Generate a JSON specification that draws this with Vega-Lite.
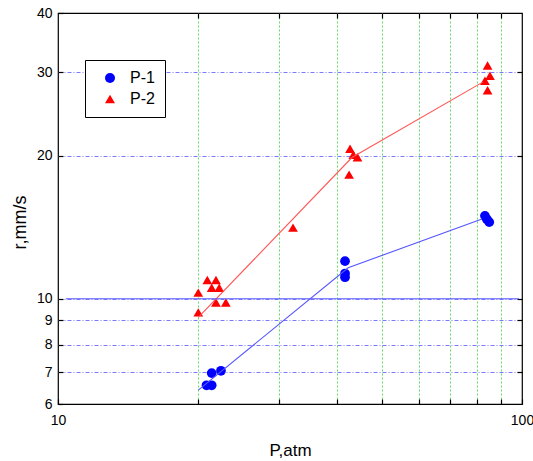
{
  "$schema": "https://vega.github.io/schema/vega-lite/v6.json",
  "width": 464,
  "height": 391,
  "autosize": {"type": "none"},
  "padding": {"left": 58, "top": 13, "right": 11, "bottom": 57},
  "background": "white",
  "config": {
    "font": "Liberation Sans",
    "view": {"stroke": "black", "strokeWidth": 1.2},
    "axis": {"domain": false, "tickColor": "black", "tickWidth": 1.2, "labelColor": "black", "titleColor": "black", "titleFontWeight": "normal"}
  },
  "datasets": {
    "pts": [
      {"series": "P-1", "P": 20.9, "r": 6.57},
      {"series": "P-1", "P": 21.44, "r": 6.57},
      {"series": "P-1", "P": 21.44, "r": 6.97},
      {"series": "P-1", "P": 22.45, "r": 7.05},
      {"series": "P-1", "P": 41.55, "r": 12.0},
      {"series": "P-1", "P": 41.55, "r": 11.3},
      {"series": "P-1", "P": 41.55, "r": 11.1},
      {"series": "P-1", "P": 83.2, "r": 14.95},
      {"series": "P-1", "P": 84.0, "r": 14.7},
      {"series": "P-1", "P": 85.0, "r": 14.5},
      {"series": "P-2", "P": 20.06, "r": 10.3},
      {"series": "P-2", "P": 20.98, "r": 10.95},
      {"series": "P-2", "P": 21.44, "r": 10.55},
      {"series": "P-2", "P": 21.9, "r": 10.95},
      {"series": "P-2", "P": 22.26, "r": 10.55},
      {"series": "P-2", "P": 21.9, "r": 9.82},
      {"series": "P-2", "P": 23.0, "r": 9.82},
      {"series": "P-2", "P": 20.06, "r": 9.36},
      {"series": "P-2", "P": 32.1, "r": 14.12},
      {"series": "P-2", "P": 42.6, "r": 20.7},
      {"series": "P-2", "P": 43.3, "r": 20.1},
      {"series": "P-2", "P": 44.2, "r": 19.87},
      {"series": "P-2", "P": 42.4, "r": 18.26},
      {"series": "P-2", "P": 84.3, "r": 31.0},
      {"series": "P-2", "P": 85.3, "r": 29.5},
      {"series": "P-2", "P": 83.2, "r": 28.8},
      {"series": "P-2", "P": 84.3, "r": 27.5}
    ],
    "lines": [
      {"line": "P-1", "P": 20.06, "r": 6.42},
      {"line": "P-1", "P": 42.2, "r": 11.62},
      {"line": "P-1", "P": 82.0, "r": 14.73},
      {"line": "P-2", "P": 20.06, "r": 9.13},
      {"line": "P-2", "P": 43.0, "r": 19.84},
      {"line": "P-2", "P": 82.3, "r": 28.6},
      {"line": "ref", "P": 10.4, "r": 10},
      {"line": "ref", "P": 98.5, "r": 10}
    ]
  },
  "resolve": {"axis": {"x": "independent", "y": "independent"}},
  "layer": [
    {
      "data": {"name": "pts"},
      "mark": {"type": "point", "filled": true, "opacity": 1, "size": 95, "strokeWidth": 0},
      "encoding": {
        "x": {
          "field": "P", "type": "quantitative",
          "scale": {"type": "log", "domain": [10, 100], "nice": false},
          "axis": {
            "orient": "bottom",
            "values": [10, 20, 30, 40, 50, 60, 70, 80, 90, 100],
            "labelExpr": "datum.value == 10 || datum.value == 100 ? datum.label : ''",
            "labelFontSize": 14, "labelPadding": 14, "tickSize": -5,
            "grid": true, "gridColor": "#5fdc5f", "gridDash": [2, 2], "gridWidth": 1,
            "gridOpacity": {"condition": {"test": "datum.value == 10 || datum.value == 100", "value": 0}, "value": 1},
            "title": "P,atm", "titleFontSize": 17, "titleX": 232, "titleY": 51, "titleBaseline": "alphabetic",
            "labelFlush": false, "labelOverlap": false
          }
        },
        "y": {
          "field": "r", "type": "quantitative",
          "scale": {"type": "log", "domain": [6, 40], "nice": false},
          "axis": {
            "orient": "left",
            "values": [6, 7, 8, 9, 10, 20, 30, 40],
            "labelFontSize": 14, "labelPadding": 11, "tickSize": -5,
            "grid": true, "gridColor": "#7a7aff", "gridDash": [4, 2, 1, 2], "gridWidth": 1,
            "gridOpacity": {"condition": {"test": "datum.value == 6 || datum.value == 40", "value": 0}, "value": 1},
            "title": "r,mm/s", "titleFontSize": 18, "titleX": -33, "titleY": 209, "titleBaseline": "alphabetic",
            "labelOverlap": false, "labelFlush": false
          }
        },
        "color": {
          "field": "series", "type": "nominal",
          "scale": {"domain": ["P-1", "P-2"], "range": ["#0000ff", "#ff0000"]},
          "legend": {
            "orient": "none", "legendX": 27, "legendY": 47, "title": null,
            "strokeColor": "black", "fillColor": "white", "padding": 10,
            "symbolOffset": 7, "labelOffset": 12, "labelFontSize": 16, "rowPadding": 5,
            "symbolSize": 100, "symbolStrokeWidth": 0
          }
        },
        "shape": {
          "field": "series", "type": "nominal",
          "scale": {"domain": ["P-1", "P-2"], "range": ["circle", "triangle-up"]},
          "legend": {
            "orient": "none", "legendX": 27, "legendY": 47, "title": null,
            "strokeColor": "black", "fillColor": "white", "padding": 10,
            "symbolOffset": 7, "labelOffset": 12, "labelFontSize": 16, "rowPadding": 5,
            "symbolSize": 100, "symbolStrokeWidth": 0
          }
        }
      }
    },
    {
      "data": {"name": "lines"},
      "mark": {"type": "line", "strokeWidth": 1.1},
      "encoding": {
        "x": {
          "field": "P", "type": "quantitative",
          "axis": {"orient": "top", "values": [20, 30, 40, 50, 60, 70, 80, 90], "labels": false, "tickSize": -5, "grid": false, "title": null}
        },
        "y": {
          "field": "r", "type": "quantitative",
          "axis": {"orient": "right", "values": [7, 8, 9, 10, 20, 30], "labels": false, "tickSize": -5, "grid": false, "title": null}
        },
        "stroke": {
          "field": "line", "type": "nominal",
          "scale": {"domain": ["P-1", "P-2", "ref"], "range": ["#5555ff", "#ff5555", "#5a5aff"]},
          "legend": null
        }
      }
    }
  ]
}
